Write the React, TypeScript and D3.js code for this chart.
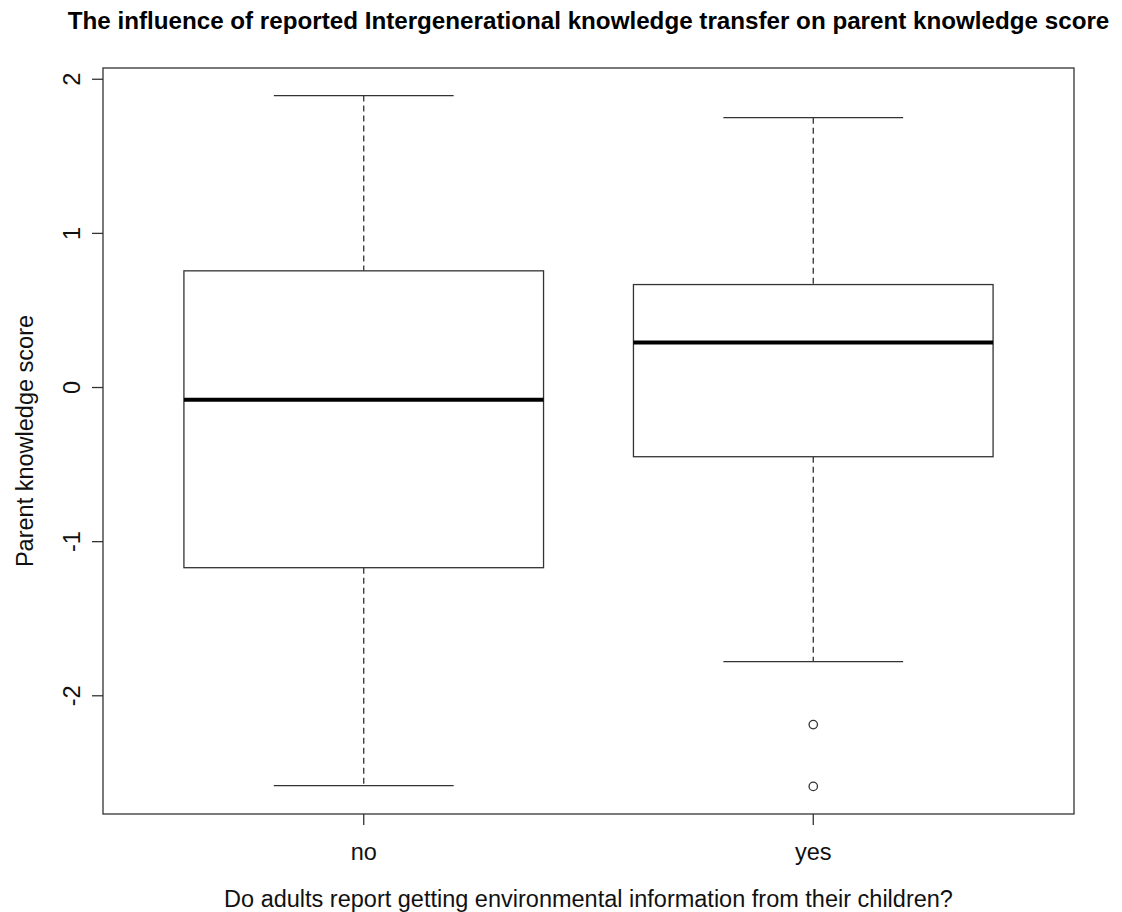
import * as d3 from "d3";

const groups = ["no", "yes"];
const lowWhisker = [-2.583, -1.779];
const q1 = [-1.169, -0.449];
const medians = [-0.08, 0.292];
const q3 = [0.757, 0.668];
const highWhisker = [1.894, 1.751];
const outliers = [[], [-2.187, -2.588]];
const yTicks = [-2, -1, 0, 1, 2];

const W = 1122;
const H = 912;
const left = 103;
const right = 1074;
const top = 68;
const bottom = 814;
const font = "'Liberation Sans', Arial, sans-serif";
const stroke = "#333";
const fs = 23.5;

export default function App() {
  const x = d3.scaleLinear().domain([0.42, 2.58]).range([left, right]);
  const y = d3.scaleLinear().domain([-2.767, 2.073]).range([bottom, top]);
  const boxHalf = x(1.4) - x(1);
  const capHalf = boxHalf / 2;
  const midX = (left + right) / 2;

  return (
    <svg width={W} height={H} style={{ position: "absolute", left: 0, top: 0, background: "#fff" }}>
      <rect x={0} y={0} width={W} height={H} fill="#fff" />
      <text x={midX} y={29} textAnchor="middle" fontFamily={font} fontWeight="bold" fontSize={24.2}>
        The influence of reported Intergenerational knowledge transfer on parent knowledge score
      </text>
      {groups.map((g, i) => {
        const cx = x(i + 1);
        return (
          <g key={g} fill="none" stroke={stroke}>
            <line x1={cx} x2={cx} y1={y(highWhisker[i])} y2={y(q3[i])} strokeDasharray="6,4" strokeWidth={1.3} />
            <line x1={cx} x2={cx} y1={y(q1[i])} y2={y(lowWhisker[i])} strokeDasharray="6,4" strokeWidth={1.3} />
            <line x1={cx - capHalf} x2={cx + capHalf} y1={y(highWhisker[i])} y2={y(highWhisker[i])} strokeWidth={1.3} />
            <line x1={cx - capHalf} x2={cx + capHalf} y1={y(lowWhisker[i])} y2={y(lowWhisker[i])} strokeWidth={1.3} />
            <rect x={cx - boxHalf} y={y(q3[i])} width={boxHalf * 2} height={y(q1[i]) - y(q3[i])} fill="#fff" strokeWidth={1.3} />
            <line x1={cx - boxHalf} x2={cx + boxHalf} y1={y(medians[i])} y2={y(medians[i])} stroke="#000" strokeWidth={4} />
            {outliers[i].map((v, k) => (
              <circle key={k} cx={cx} cy={y(v)} r={4.2} strokeWidth={1.3} fill="#fff" />
            ))}
          </g>
        );
      })}
      <rect x={left} y={top} width={right - left} height={bottom - top} fill="none" stroke={stroke} strokeWidth={1.3} />
      {yTicks.map((t) => (
        <g key={t}>
          <line x1={left - 11} x2={left} y1={y(t)} y2={y(t)} stroke={stroke} strokeWidth={1.3} />
          <text
            transform={`translate(80,${y(t)}) rotate(-90)`}
            textAnchor="middle"
            fontFamily={font}
            fontSize={fs}
            fill="#111"
          >
            {t}
          </text>
        </g>
      ))}
      {groups.map((g, i) => (
        <g key={g}>
          <line x1={x(i + 1)} x2={x(i + 1)} y1={bottom} y2={bottom + 11} stroke={stroke} strokeWidth={1.3} />
          <text x={x(i + 1)} y={860} textAnchor="middle" fontFamily={font} fontSize={fs} fill="#111">
            {g}
          </text>
        </g>
      ))}
      <text x={midX} y={907} textAnchor="middle" fontFamily={font} fontSize={fs} fill="#111">
        Do adults report getting environmental information from their children?
      </text>
      <text transform={`translate(33,${(top + bottom) / 2}) rotate(-90)`} textAnchor="middle" fontFamily={font} fontSize={fs} fill="#111">
        Parent knowledge score
      </text>
    </svg>
  );
}
